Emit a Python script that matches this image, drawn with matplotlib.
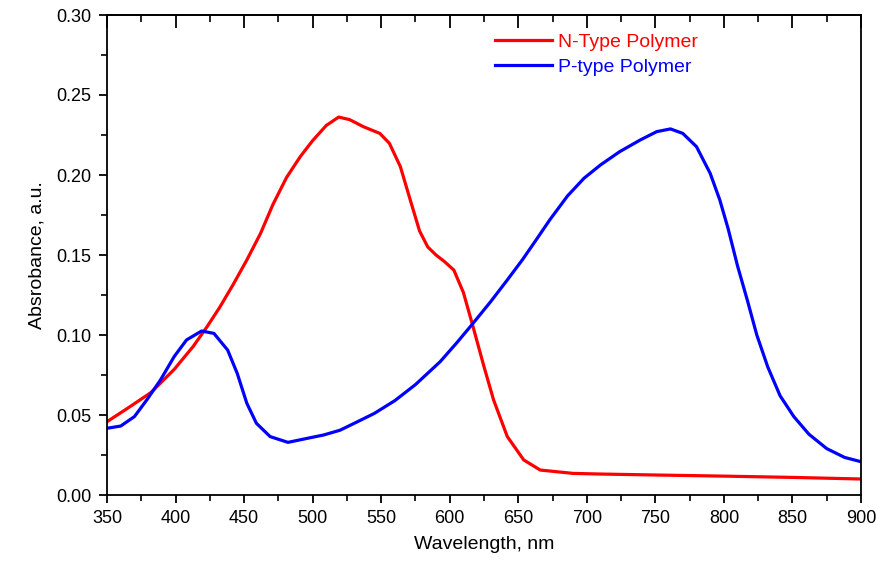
import matplotlib
matplotlib.use("Agg")
from matplotlib import pyplot as plt
from matplotlib.ticker import MultipleLocator, FormatStrFormatter

plt.rcParams['font.family'] = ['Liberation Sans', 'DejaVu Sans']

# N-type polymer absorbance
wl_n = [350, 365, 382, 399, 413, 423, 432, 442, 452, 462, 471, 481, 491, 500,
        510, 519, 527, 537, 549, 556, 564, 571, 578, 584, 590, 596, 603, 610,
        617, 625, 632, 642, 654, 666, 690, 710, 750, 800, 850, 900]
abs_n = [0.0458, 0.0542, 0.0640, 0.0785, 0.0930, 0.1052, 0.1170, 0.1315,
         0.1469, 0.1635, 0.1815, 0.1985, 0.2115, 0.2215, 0.2310, 0.2362,
         0.2346, 0.2302, 0.2260, 0.2198, 0.2052, 0.1850, 0.1650, 0.1550,
         0.1500, 0.1460, 0.1406, 0.1265, 0.1052, 0.0802, 0.0594, 0.0365,
         0.0219, 0.0156, 0.0135, 0.0131, 0.0125, 0.0118, 0.0110, 0.0100]

# P-type polymer absorbance
wl_p = [350, 360, 370, 379, 389, 399, 408, 419, 428, 438, 445, 452, 459, 469,
        482, 496, 508, 520, 532, 545, 560, 575, 593, 605, 617, 630, 642, 653,
        663, 673, 686, 698, 710, 724, 739, 751, 761, 770, 780, 790, 797, 803,
        810, 817, 824, 832, 841, 851, 862, 875, 888, 900]
abs_p = [0.0417, 0.0431, 0.0490, 0.0594, 0.0719, 0.0865, 0.0969, 0.1025,
         0.1010, 0.0906, 0.0760, 0.0573, 0.0448, 0.0365, 0.0329, 0.0354,
         0.0375, 0.0405, 0.0455, 0.0510, 0.0590, 0.0690, 0.0833, 0.0950,
         0.1073, 0.1210, 0.1344, 0.1470, 0.1594, 0.1720, 0.1870, 0.1980,
         0.2063, 0.2146, 0.2219, 0.2271, 0.2288, 0.2260, 0.2177, 0.2010,
         0.1844, 0.1667, 0.1430, 0.1220, 0.1000, 0.0800, 0.0620, 0.0490,
         0.0380, 0.0290, 0.0235, 0.0208]

fig = plt.figure(figsize=(8.76, 5.62), dpi=100)
ax = fig.add_axes([107/876, 1-495/562, (861-107)/876, (495-15)/562])

ax.plot(wl_n, abs_n, color='#ff0000', lw=2.3, solid_joinstyle='round',
        label='N-Type Polymer')
ax.plot(wl_p, abs_p, color='#0000ff', lw=2.3, solid_joinstyle='round',
        label='P-type Polymer')

ax.set_xlim(350, 900)
ax.set_ylim(0, 0.30)
ax.xaxis.set_major_locator(MultipleLocator(50))
ax.xaxis.set_minor_locator(MultipleLocator(25))
ax.yaxis.set_major_locator(MultipleLocator(0.05))
ax.yaxis.set_minor_locator(MultipleLocator(0.025))
ax.yaxis.set_major_formatter(FormatStrFormatter('%.2f'))

for s in ax.spines.values():
    s.set_linewidth(1.3)
ax.tick_params(which='major', direction='out', length=6, width=1.3,
               labelsize=13, pad=5)
ax.tick_params(which='minor', direction='out', length=4, width=1.2)

# top axis: inward ticks, no labels
top = ax.secondary_xaxis('top')
top.xaxis.set_major_locator(MultipleLocator(50))
top.xaxis.set_minor_locator(MultipleLocator(25))
top.tick_params(which='major', direction='in', length=9, width=1.3, labeltop=False)
top.tick_params(which='minor', direction='in', length=5, width=1.2)
top.spines['top'].set_linewidth(1.3)

ax.set_xlabel('Wavelength, nm', fontsize=14, labelpad=6)
ax.set_ylabel('Absrobance, a.u.', fontsize=14, labelpad=8)

leg = ax.legend(loc='upper left', bbox_to_anchor=(0.515, 0.962), frameon=False,
                fontsize=14, handlelength=2.9, handletextpad=0.3,
                labelspacing=0.4, borderpad=0, borderaxespad=0,
                labelcolor='linecolor')

fig.savefig('out.png', dpi=100)
